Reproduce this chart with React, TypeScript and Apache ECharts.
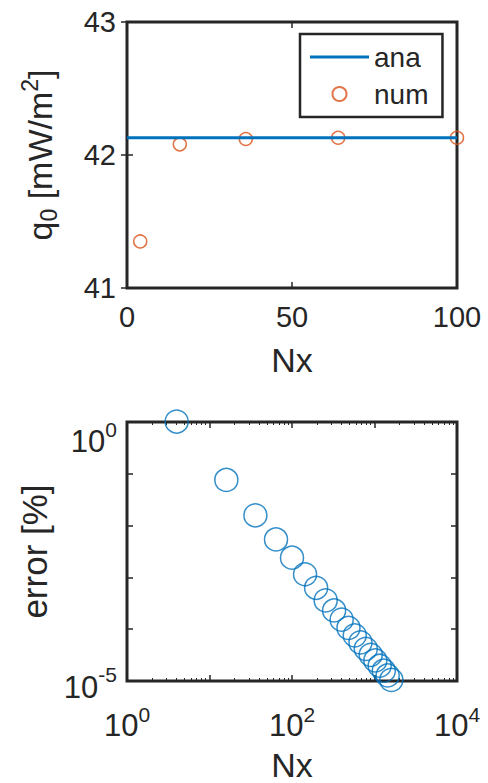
import React, { useEffect, useRef } from "react";
import * as echarts from "echarts";

// ---- data ----
const anaNx = [0, 100];
const anaQ0 = [42.13, 42.13];
const numNx = [4, 16, 36, 64, 100];
const numQ0 = [41.35, 42.08, 42.12, 42.13, 42.13];

const errNx = [4, 16, 36, 64, 100, 144, 196, 256, 324, 400, 484, 576, 676, 784, 900, 1024, 1156, 1296, 1444, 1600];
const errPct = [
  1.02, 0.076, 0.0158, 0.0054, 0.0024, 0.00115, 0.00063, 0.00036, 0.00023, 0.000153,
  0.000106, 0.000076, 0.0000556, 0.0000418, 0.000032, 0.0000249, 0.0000197, 0.0000158, 0.0000128, 0.0000105,
];

const topXTicks = [0, 50, 100];
const topYTicks = [41, 42, 43];
const botXLabelExps = [0, 2, 4];
const botYLabelExps = [-5, 0];

const FONT = "Liberation Sans, Arial, Helvetica, sans-serif";
const INK = "#262626";
const BLUE = "#0072BD";
const ORANGE = "#D95319";

const tickStyle = { show: true, inside: true, length: 6, lineStyle: { color: INK, width: 1.5 } };
const BASE = { fontSize: 31, fontFamily: FONT, color: INK };
const SUP = { fontSize: 21, fontFamily: FONT, color: INK };
const xRich = {
  base: { ...BASE },
  sup: { ...SUP, padding: [0, 0, 22, 0] },
};
const yRich = {
  baseTop: { ...BASE, padding: [38, 0, 0, 0] },
  supTop: { ...SUP, padding: [15, 0, 0, 0] },
  baseBot: { ...BASE, padding: [12, 0, 0, 0] },
  supBot: { ...SUP, padding: [0, 0, 14, 0] },
};

function expOf(v: number) {
  return Math.round(Math.log10(v));
}

export default function App() {
  const ref = useRef<HTMLDivElement>(null);
  useEffect(() => {
    if (!ref.current) return;
    const chart = echarts.init(ref.current, undefined, { renderer: "svg" });
    const hiddenLabel = { show: false };
    chart.setOption({
      animation: false,
      backgroundColor: "#ffffff",
      textStyle: { fontFamily: FONT, color: INK },
      grid: [
        { left: 127, top: 22, width: 330, height: 266, show: true, borderColor: INK, borderWidth: 3, backgroundColor: "transparent" },
        { left: 127, top: 422, width: 330, height: 264, show: true, borderColor: INK, borderWidth: 3, backgroundColor: "transparent" },
      ],
      legend: {
        data: [
          { name: "ana", icon: "path://M0,0H59V3H0Z", itemStyle: { color: BLUE, borderWidth: 0 } },
          { name: "num" },
        ],
        orient: "vertical",
        left: 300,
        top: 34,
        padding: [8, 14, 8, 10],
        itemGap: 7,
        itemWidth: 59,
        itemHeight: 14,
        symbolKeepAspect: true,
        backgroundColor: "#ffffff",
        borderColor: INK,
        borderWidth: 2.5,
        textStyle: { fontSize: 28, fontFamily: FONT, color: INK, lineHeight: 30 },
      },
      xAxis: [
        {
          gridIndex: 0, type: "value", min: 0, max: 100, interval: 50, position: "bottom",
          axisLine: { show: false }, splitLine: { show: false }, axisTick: tickStyle,
          axisLabel: { fontSize: 29, fontFamily: FONT, color: INK, margin: 14,
            formatter: (v: number) => (topXTicks.includes(v) ? String(v) : "") },
          name: "Nx", nameLocation: "middle", nameGap: 55,
          nameTextStyle: { fontSize: 34, fontFamily: FONT, color: INK },
        },
        {
          gridIndex: 0, type: "value", min: 0, max: 100, interval: 50, position: "top",
          axisLine: { show: false }, splitLine: { show: false }, axisTick: tickStyle, axisLabel: hiddenLabel,
        },
        {
          gridIndex: 1, type: "log", logBase: 10, min: 1, max: 10000, position: "bottom",
          axisLine: { show: false }, splitLine: { show: false }, axisTick: tickStyle,
          minorTick: { show: true, splitNumber: 9, length: 3, lineStyle: { color: INK, width: 1 } },
          axisLabel: { margin: 23, fontSize: 31, fontFamily: FONT, color: INK, rich: xRich,
            formatter: (v: number) => { const e = expOf(v); return botXLabelExps.includes(e) ? `{base|10}{sup|${e}}` : ""; } },
          name: "Nx", nameLocation: "middle", nameGap: 67,
          nameTextStyle: { fontSize: 34, fontFamily: FONT, color: INK },
        },
        {
          gridIndex: 1, type: "log", logBase: 10, min: 1, max: 10000, position: "top",
          axisLine: { show: false }, splitLine: { show: false }, axisTick: tickStyle,
          minorTick: { show: true, splitNumber: 9, length: 3, lineStyle: { color: INK, width: 1 } },
          axisLabel: hiddenLabel,
        },
      ],
      yAxis: [
        {
          gridIndex: 0, type: "value", min: 41, max: 43, interval: 1, position: "left",
          axisLine: { show: false }, splitLine: { show: false }, axisTick: tickStyle,
          axisLabel: { fontSize: 29, fontFamily: FONT, color: INK, margin: 11,
            formatter: (v: number) => (topYTicks.includes(v) ? String(v) : "") },
          name: "q{sub|0} [mW/m{sup|2}]", nameLocation: "middle", nameGap: 66, nameRotate: 90,
          nameTextStyle: {
            fontSize: 34, fontFamily: FONT, color: INK,
            rich: {
              sub: { fontSize: 23, fontFamily: FONT, color: INK, padding: [18, 0, 0, 0] },
              sup: { fontSize: 23, fontFamily: FONT, color: INK, padding: [0, 0, 20, 0] },
            },
          },
        },
        {
          gridIndex: 0, type: "value", min: 41, max: 43, interval: 1, position: "right",
          axisLine: { show: false }, splitLine: { show: false }, axisTick: tickStyle, axisLabel: hiddenLabel,
        },
        {
          gridIndex: 1, type: "log", logBase: 10, min: 0.00001, max: 1, position: "left",
          axisLine: { show: false }, splitLine: { show: false }, axisTick: tickStyle,
          axisLabel: { margin: 10, fontSize: 31, fontFamily: FONT, color: INK, rich: yRich,
            formatter: (v: number) => {
              const e = expOf(v);
              if (!botYLabelExps.includes(e)) return "";
              return e === 0 ? `{baseTop|10}{supTop|${e}}` : `{baseBot|10}{supBot|${e}}`;
            } },
          name: "error [%]", nameLocation: "middle", nameGap: 75, nameRotate: 90,
          nameTextStyle: { fontSize: 35, fontFamily: FONT, color: INK },
        },
        {
          gridIndex: 1, type: "log", logBase: 10, min: 0.00001, max: 1, position: "right",
          axisLine: { show: false }, splitLine: { show: false }, axisTick: tickStyle, axisLabel: hiddenLabel,
        },
      ],
      series: [
        {
          name: "ana", type: "line", xAxisIndex: 0, yAxisIndex: 0, symbol: "none",
          data: anaNx.map((x, i) => [x, anaQ0[i]]),
          lineStyle: { color: BLUE, width: 3 }, itemStyle: { color: BLUE },
        },
        {
          name: "num", type: "scatter", xAxisIndex: 0, yAxisIndex: 0, symbol: "circle", symbolSize: 13, clip: false,
          data: numNx.map((x, i) => [x, numQ0[i]]),
          itemStyle: { color: "rgba(255,255,255,0)", borderColor: ORANGE, borderWidth: 1.5 },
        },
        {
          name: "err", type: "scatter", xAxisIndex: 2, yAxisIndex: 2, symbol: "circle", symbolSize: 23, clip: false,
          data: errNx.map((x, i) => [x, errPct[i]]),
          itemStyle: { color: "rgba(255,255,255,0)", borderColor: BLUE, borderWidth: 1.5 },
        },
      ],
    });
    return () => chart.dispose();
  }, []);
  return <div ref={ref} style={{ position: "fixed", left: 0, top: 0, width: 488, height: 783 }} />;
}
